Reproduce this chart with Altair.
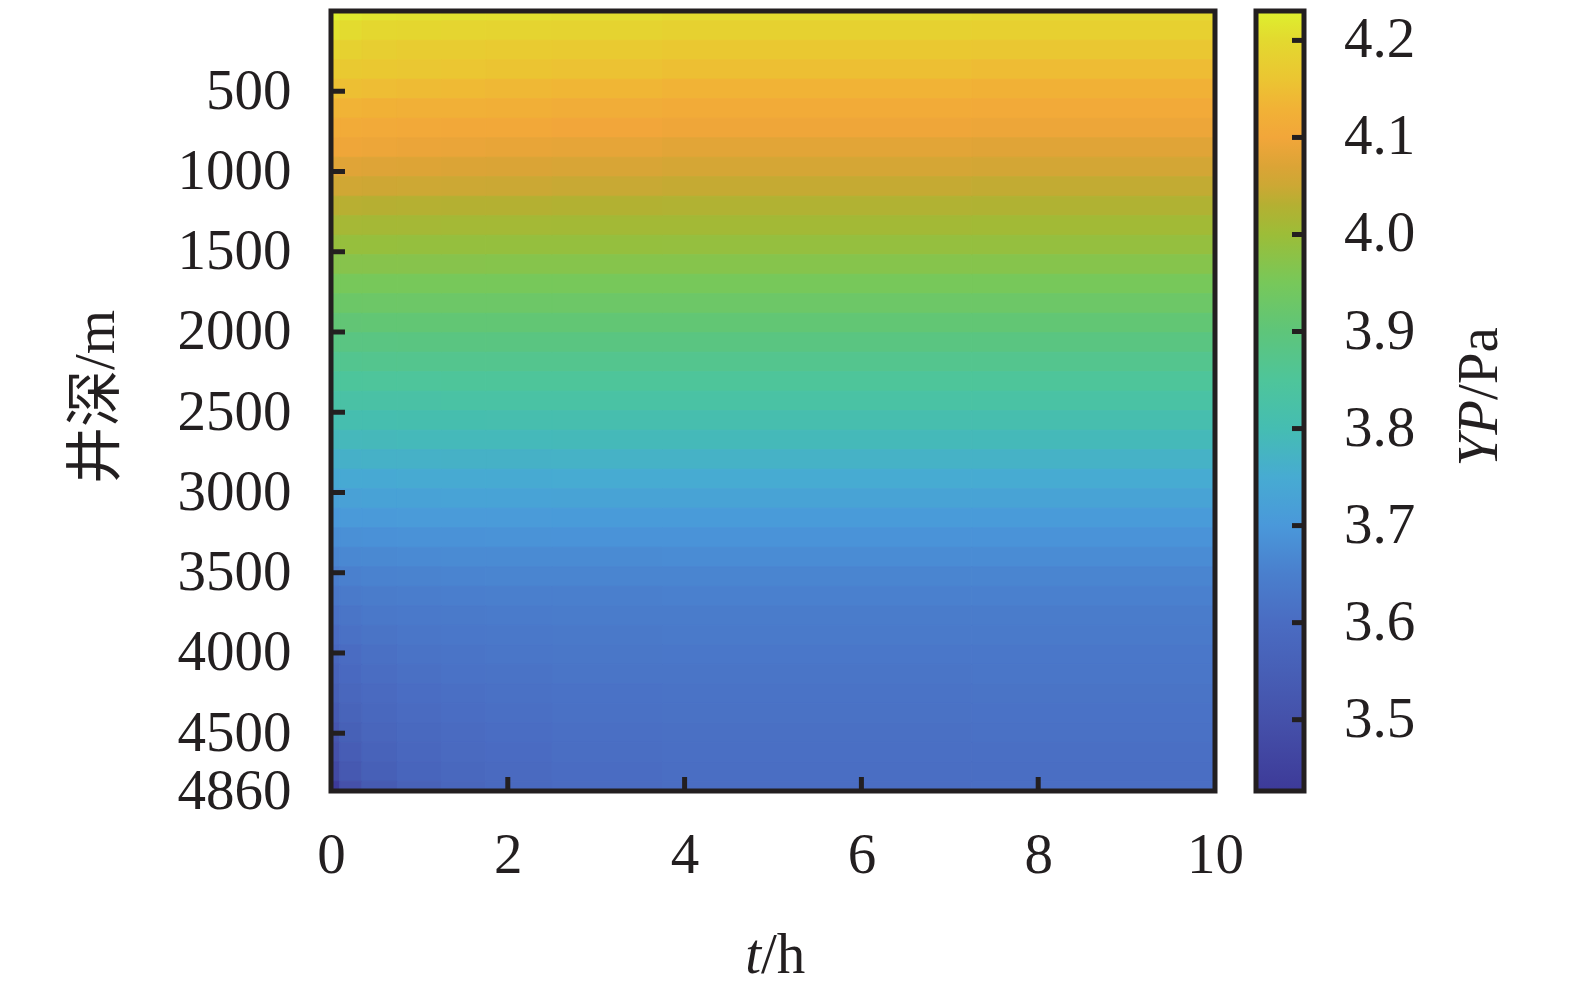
import altair as alt
import pandas as pd

# ---------------- data ----------------
depth_m = [0, 121.5, 243, 364.5, 486, 607.5, 729, 850.5, 972, 1093.5, 1215,
           1336.5, 1458, 1579.5, 1701, 1822.5, 1944, 2065.5, 2187, 2308.5, 2430,
           2551.5, 2673, 2794.5, 2916, 3037.5, 3159, 3280.5, 3402, 3523.5, 3645,
           3766.5, 3888, 4009.5, 4131, 4252.5, 4374, 4495.5, 4617, 4738.5, 4860]

time_h = [0, 0.2, 0.5, 1, 1.5, 2, 3, 4.5, 10]

yp_t00 = [4.230, 4.212, 4.192, 4.172, 4.152, 4.133, 4.114, 4.098, 4.078, 4.056, 4.034,
          4.012, 3.992, 3.971, 3.950, 3.929, 3.908, 3.887, 3.866, 3.846, 3.826,
          3.805, 3.784, 3.763, 3.742, 3.721, 3.700, 3.680, 3.662, 3.645, 3.628,
          3.612, 3.597, 3.582, 3.567, 3.552, 3.536, 3.519, 3.500, 3.477, 3.430]
yp_t02 = [4.221, 4.203, 4.184, 4.169, 4.150, 4.131, 4.112, 4.096, 4.076, 4.055, 4.033,
          4.012, 3.992, 3.971, 3.950, 3.929, 3.908, 3.888, 3.867, 3.847, 3.827,
          3.807, 3.786, 3.765, 3.745, 3.724, 3.704, 3.684, 3.668, 3.652, 3.638,
          3.624, 3.613, 3.601, 3.590, 3.579, 3.568, 3.556, 3.544, 3.529, 3.500]
yp_t05 = [4.215, 4.197, 4.178, 4.167, 4.147, 4.128, 4.110, 4.094, 4.074, 4.053, 4.032,
          4.011, 3.992, 3.971, 3.950, 3.930, 3.909, 3.888, 3.868, 3.848, 3.828,
          3.807, 3.787, 3.767, 3.746, 3.726, 3.705, 3.687, 3.670, 3.656, 3.642,
          3.631, 3.620, 3.611, 3.602, 3.593, 3.584, 3.575, 3.565, 3.554, 3.534]
yp_t10 = [4.212, 4.194, 4.175, 4.164, 4.145, 4.126, 4.108, 4.091, 4.072, 4.052, 4.031,
          4.011, 3.991, 3.971, 3.950, 3.930, 3.909, 3.889, 3.868, 3.848, 3.828,
          3.808, 3.788, 3.767, 3.747, 3.727, 3.707, 3.688, 3.672, 3.659, 3.646,
          3.635, 3.626, 3.618, 3.610, 3.603, 3.596, 3.589, 3.582, 3.574, 3.560]
yp_t15 = [4.210, 4.192, 4.174, 4.162, 4.142, 4.124, 4.106, 4.089, 4.070, 4.050, 4.030,
          4.010, 3.991, 3.971, 3.950, 3.930, 3.909, 3.889, 3.869, 3.849, 3.829,
          3.808, 3.788, 3.768, 3.748, 3.728, 3.708, 3.689, 3.674, 3.660, 3.648,
          3.638, 3.630, 3.622, 3.616, 3.609, 3.603, 3.597, 3.592, 3.585, 3.576]
yp_t20 = [4.209, 4.191, 4.172, 4.159, 4.140, 4.122, 4.104, 4.087, 4.069, 4.049, 4.030,
          4.010, 3.991, 3.970, 3.950, 3.930, 3.909, 3.889, 3.869, 3.849, 3.829,
          3.809, 3.788, 3.768, 3.748, 3.728, 3.708, 3.690, 3.675, 3.661, 3.650,
          3.640, 3.632, 3.625, 3.619, 3.613, 3.608, 3.603, 3.598, 3.593, 3.587]
yp_t30 = [4.206, 4.188, 4.170, 4.155, 4.136, 4.118, 4.100, 4.084, 4.066, 4.047, 4.028,
          4.009, 3.991, 3.970, 3.950, 3.930, 3.909, 3.889, 3.869, 3.849, 3.829,
          3.809, 3.789, 3.769, 3.749, 3.729, 3.709, 3.691, 3.675, 3.662, 3.651,
          3.642, 3.634, 3.628, 3.623, 3.617, 3.613, 3.608, 3.605, 3.601, 3.597]
yp_t45 = [4.203, 4.185, 4.167, 4.150, 4.132, 4.113, 4.096, 4.079, 4.062, 4.044, 4.026,
          4.009, 3.990, 3.970, 3.950, 3.930, 3.909, 3.889, 3.869, 3.849, 3.829,
          3.809, 3.789, 3.769, 3.749, 3.729, 3.709, 3.691, 3.676, 3.663, 3.652,
          3.643, 3.636, 3.630, 3.624, 3.619, 3.615, 3.611, 3.608, 3.605, 3.602]
yp_t100 = [4.200, 4.182, 4.164, 4.146, 4.128, 4.110, 4.093, 4.076, 4.059, 4.042, 4.025,
           4.008, 3.990, 3.970, 3.950, 3.930, 3.909, 3.889, 3.869, 3.849, 3.829,
           3.809, 3.789, 3.769, 3.749, 3.729, 3.709, 3.691, 3.676, 3.663, 3.652,
           3.643, 3.636, 3.630, 3.625, 3.620, 3.616, 3.612, 3.609, 3.606, 3.604]

yp_columns = [yp_t00, yp_t02, yp_t05, yp_t10, yp_t15, yp_t20, yp_t30, yp_t45, yp_t100]

x_tick_values = [0, 2, 4, 6, 8, 10]
y_tick_values = [500, 1000, 1500, 2000, 2500, 3000, 3500, 4000, 4500, 4860]
cb_tick_values = [3.5, 3.6, 3.7, 3.8, 3.9, 4.0, 4.1, 4.2]
cb_domain = [3.4265, 4.2303]

color_stops = [3.4265, 3.5, 3.55, 3.6, 3.65, 3.7, 3.75, 3.8, 3.85, 3.9, 3.95,
               4.0, 4.03, 4.05, 4.07, 4.1, 4.13, 4.16, 4.2, 4.2303]
color_hex = ["#3d3a98", "#4551aa", "#475fb6", "#4a6cc2", "#4a7fcd", "#4a98da",
             "#47abd2", "#45bdb2", "#4ec59a", "#5ec57a", "#77c85a",
             "#9cbd38", "#b4b032", "#cca834", "#dba436", "#f2a63a", "#f1b236",
             "#ebc532", "#e3d92f", "#def02e"]

# ---------------- build the cell table ----------------
def cell_edges(nodes, lo, hi):
    mids = [(a + b) / 2 for a, b in zip(nodes[:-1], nodes[1:])]
    return [lo] + mids, mids + [hi]

t_lo, t_hi = cell_edges(time_h, 0, 10)
d_lo, d_hi = cell_edges(depth_m, 0, 4860)

rows = []
for j, col in enumerate(yp_columns):
    for i, v in enumerate(col):
        rows.append({"t0": t_lo[j], "t1": t_hi[j], "d0": d_lo[i], "d1": d_hi[i], "yp": v})
grid = pd.DataFrame(rows)

# ---------------- chart ----------------
W, H = 884, 780
FONT = "Liberation Serif"
CJK_FONT = "Liberation Serif, Noto Sans CJK SC"
INK = "#231f20"
FS = 57

color_scale = alt.Scale(domain=color_stops, range=color_hex, interpolate="rgb")
x_scale = alt.Scale(domain=[0, 10], nice=False, zero=False)
y_scale = alt.Scale(domain=[0, 4860], reverse=True, nice=False, zero=False)
cb_scale = alt.Scale(domain=cb_domain, nice=False, zero=False)

x_axis = alt.Axis(values=x_tick_values, title=None, ticks=False, tickSize=0,
                  domain=False, grid=False, labelFont=FONT, labelFontSize=FS,
                  labelColor=INK, labelPadding=36, labelFlush=False,
                  labelOverlap=False, labelBound=False, format="d")
y_axis = alt.Axis(values=y_tick_values, title=None, ticks=False, tickSize=0,
                  domain=False, grid=False, labelFont=FONT, labelFontSize=FS,
                  labelColor=INK, labelPadding=40, labelFlush=False,
                  labelOverlap=False, labelBound=False, format="d")

heat = alt.Chart(grid).mark_rect(strokeWidth=1).encode(
    x=alt.X("t0:Q", scale=x_scale, axis=x_axis),
    x2="t1:Q",
    y=alt.Y("d0:Q", scale=y_scale, axis=y_axis),
    y2="d1:Q",
    color=alt.Color("yp:Q", scale=color_scale, legend=None),
    stroke=alt.Stroke("yp:Q", scale=color_scale, legend=None),
)

ytick_df = pd.DataFrame({"d": y_tick_values[:-1]})
yticks = alt.Chart(ytick_df).mark_rule(color=INK, strokeWidth=5).encode(
    y=alt.Y("d:Q", scale=y_scale, axis=None),
    x=alt.value(0), x2=alt.value(14),
)

xtick_df = pd.DataFrame({"t": x_tick_values[1:-1]})
xticks = alt.Chart(xtick_df).mark_rule(color=INK, strokeWidth=5).encode(
    x=alt.X("t:Q", scale=x_scale, axis=x_axis),
    y=alt.value(H), y2=alt.value(H - 14),
)

# ---- colour bar (same stops as the colour scale) ----
span = cb_domain[1] - cb_domain[0]
cb_gradient = alt.Gradient(
    gradient="linear",
    stops=[alt.GradientStop(offset=(s - cb_domain[0]) / span, color=c)
           for s, c in zip(color_stops, color_hex)],
    x1=0, x2=0, y1=1, y2=0,
)
cb_df = pd.DataFrame({"lo": [cb_domain[0]], "hi": [cb_domain[1]]})
cbar = alt.Chart(cb_df).mark_rect(fill=cb_gradient, stroke=INK, strokeWidth=5).encode(
    y=alt.Y("lo:Q", scale=cb_scale, axis=None),
    y2="hi:Q",
    x=alt.value(925), x2=alt.value(973),
)

cbtick_df = pd.DataFrame({"v": cb_tick_values})
cbticks = alt.Chart(cbtick_df).mark_rule(color=INK, strokeWidth=5).encode(
    y=alt.Y("v:Q", scale=cb_scale, axis=None),
    x=alt.value(961), x2=alt.value(973),
)
cblabels = alt.Chart(cbtick_df).mark_text(
    font=FONT, fontSize=FS, color=INK, align="left", baseline="middle"
).encode(
    y=alt.Y("v:Q", scale=cb_scale, axis=None),
    x=alt.value(1013),
    text=alt.Text("v:Q", format=".1f"),
)

one = pd.DataFrame({"k": [0]})
frame = alt.Chart(one).mark_rect(fillOpacity=0, stroke=INK, strokeWidth=5).encode(
    x=alt.value(0), x2=alt.value(W), y=alt.value(0), y2=alt.value(H)
)

def label(text, x, y, align, angle=0, italic=False, font=FONT):
    kw = dict(text=text, font=font, fontSize=FS, color=INK, align=align,
              baseline="alphabetic", fontStyle="italic" if italic else "normal")
    if angle:
        kw["angle"] = angle
    return alt.Chart(one).mark_text(**kw).encode(x=alt.value(x), y=alt.value(y))

t_italic = label("t", 430, 962, "right", italic=True)
t_unit = label("/h", 430, 962, "left")
y_title = label("井深/m", -217, 386, "center", angle=270, font=CJK_FONT)
yp_italic = label("YP", 1166, 389, "right", angle=270, italic=True)
yp_unit = label("/Pa", 1166, 389, "left", angle=270)

chart = alt.layer(
    heat, yticks, xticks, frame, cbar, cbticks, cblabels,
    t_italic, t_unit, y_title, yp_italic, yp_unit,
).resolve_scale(y="independent").properties(
    width=W, height=H,
    autosize=alt.AutoSizeParams(type="none"),
    padding={"left": 323, "top": 3, "right": 340, "bottom": 195},
).configure_view(stroke=None).configure(background="white")

chart.save("out.html", embed_options={"renderer": "svg", "actions": False})
